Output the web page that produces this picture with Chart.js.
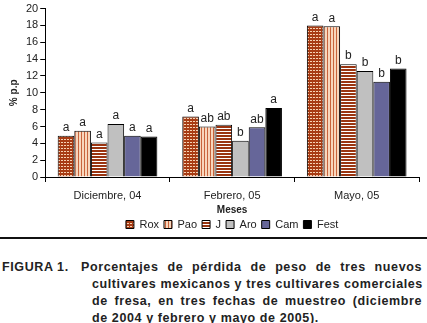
<!DOCTYPE html>
<html>
<head>
<meta charset="utf-8">
<script src="https://cdn.jsdelivr.net/npm/chart.js@4"></script>
<style>
  body { margin: 0; background: #fff; width: 427px; height: 323px; overflow: hidden; font-family: Arial, "Liberation Sans", sans-serif; }
  #wrap { position: absolute; left: 0; top: 0; width: 427px; height: 236px; }
  #rule { position: absolute; left: 0; top: 237px; width: 427px; height: 2px; background: #111; }
  #cap { position: absolute; left: 0; top: 259px; width: 427px; font-weight: bold; font-size: 12.5px; line-height: 17px; color: #222; letter-spacing: 0.6px; }
  #cap .lab { position: absolute; left: 2px; top: 0; white-space: nowrap; }
  #cap .ln { margin-left: 92px; width: 330px; text-align: justify; text-align-last: justify; white-space: nowrap; }
  #cap .ln.first { margin-left: 81px; width: 341px; }
  #cap .ln.last { text-align-last: left; }
</style>
</head>
<body>
<div id="wrap"><canvas id="c" width="427" height="236"></canvas></div>
<div id="rule"></div>
<div id="cap">
  <div class="lab">FIGURA 1.</div>
  <div class="ln first">Porcentajes de pérdida de peso de tres nuevos</div>
  <div class="ln">cultivares mexicanos y tres cultivares comerciales</div>
  <div class="ln">de fresa, en tres fechas de muestreo (diciembre</div>
  <div class="ln last">de 2004 y febrero y mayo de 2005).</div>
</div>
<script>
// data
const meses = ['Diciembre, 04', 'Febrero, 05', 'Mayo, 05'];
const rox  = [4.9, 7.2, 18.0];
const pao  = [5.5, 6.0, 17.9];
const jj   = [4.1, 6.2, 13.4];
const aro  = [6.3, 4.3, 12.6];
const cam  = [4.9, 5.9, 11.3];
const fest = [4.8, 8.2, 12.9];
const letrasRox  = ['a', 'a', 'a'];
const letrasPao  = ['a', 'ab', 'a'];
const letrasJ    = ['a', 'ab', 'b'];
const letrasAro  = ['a', 'b', 'b'];
const letrasCam  = ['a', 'ab', 'b'];
const letrasFest = ['a', 'a', 'b'];

function tile(w, h, draw) {
  const cv = document.createElement('canvas');
  cv.width = w; cv.height = h;
  const g = cv.getContext('2d');
  draw(g);
  return document.getElementById('c').getContext('2d').createPattern(cv, 'repeat');
}

const patRox = tile(3, 3, g => {
  g.fillStyle = '#a83c14'; g.fillRect(0, 0, 3, 3);
  g.fillStyle = '#f6d2b4'; g.fillRect(1, 1, 2, 1);
});
const patPao = tile(3, 1, g => {
  g.fillStyle = '#f8d6bc'; g.fillRect(0, 0, 3, 1);
  g.fillStyle = '#c8643c'; g.fillRect(0, 0, 1, 1);
});
const patJ = tile(1, 3, g => {
  g.fillStyle = '#fff'; g.fillRect(0, 0, 1, 3);
  g.fillStyle = '#9a3410'; g.fillRect(0, 0, 1, 2);
});

const letrasPlugin = {
  id: 'letras',
  afterLayout(chart) {
    // legend centred under the plot, not the whole canvas
    const shift = (chart.chartArea.left + chart.chartArea.right) / 2 - (chart.legend.left + chart.legend.right) / 2;
    chart.legend.left += shift;
    chart.legend.right += shift;
  },
  afterDatasetsDraw(chart) {
    const ctx = chart.ctx;
    ctx.save();
    ctx.font = '12px Arial, "Liberation Sans"';
    ctx.fillStyle = '#222';
    ctx.textAlign = 'center';
    ctx.textBaseline = 'bottom';
    chart.data.datasets.forEach((ds, i) => {
      chart.getDatasetMeta(i).data.forEach((bar, j) => {
        ctx.fillText(ds.letras[j], bar.x, bar.y - 2);
      });
    });
    ctx.restore();
  }
};

function ds(label, data, bg, letras) {
  return { label, data, backgroundColor: bg, borderColor: '#000', borderWidth: 1, letras,
           barPercentage: 1, categoryPercentage: 0.8 };
}

new Chart(document.getElementById('c'), {
  type: 'bar',
  data: {
    labels: meses,
    datasets: [
      ds('Rox', rox, patRox, letrasRox),
      ds('Pao', pao, patPao, letrasPao),
      ds('J', jj, patJ, letrasJ),
      ds('Aro', aro, '#c0c0c0', letrasAro),
      ds('Cam', cam, '#666699', letrasCam),
      ds('Fest', fest, '#000000', letrasFest)
    ]
  },
  options: {
    responsive: false,
    animation: false,
    layout: { padding: { left: 4, right: 8, top: 0, bottom: -4 } },
    plugins: {
      tooltip: { enabled: false },
      legend: {
        position: 'bottom',
        labels: { boxWidth: 8, boxHeight: 8, padding: 5, color: '#222',
                  font: { family: 'Arial, "Liberation Sans"', size: 11 } }
      }
    },
    scales: {
      x: {
        afterFit(scale) { scale.height = 37; },
        grid: { display: true, drawOnChartArea: false, offset: true, tickLength: 5, color: '#000' },
        border: { color: '#000' },
        ticks: { color: '#222', font: { family: 'Arial, "Liberation Sans"', size: 11 }, padding: 7 },
        title: { display: true, text: 'Meses', color: '#222', padding: { top: 0, bottom: -2 },
                 font: { family: 'Arial, "Liberation Sans"', size: 10, weight: 'bold' } }
      },
      y: {
        min: 0, max: 20,
        grid: { display: true, drawOnChartArea: false, tickLength: 5, color: '#000' },
        border: { color: '#000' },
        ticks: { stepSize: 2, autoSkip: false, color: '#222', padding: 2, font: { family: 'Arial, "Liberation Sans"', size: 11 } },
        title: { display: true, text: '% p.p', color: '#222', padding: 4,
                 font: { family: 'Arial, "Liberation Sans"', size: 10, weight: 'bold' } }
      }
    }
  },
  plugins: [letrasPlugin]
});
</script>
</body>
</html>
